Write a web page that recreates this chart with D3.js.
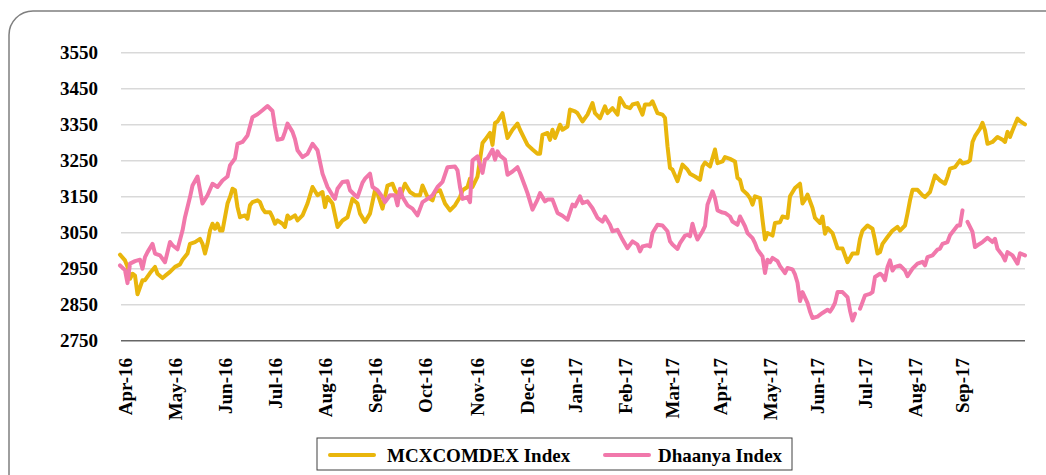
<!DOCTYPE html>
<html>
<head>
<meta charset="utf-8">
<script src="https://cdnjs.cloudflare.com/ajax/libs/d3/7.8.5/d3.min.js"></script>
<style>
  body { margin: 0; background: #fff; }
  text { font-family: "Liberation Serif", "Times New Roman", serif; font-weight: bold; fill: #000; }
</style>
</head>
<body>
<div id="chart"></div>
<script>
// trading-session index of the first session of each month
var monthTicks = [2, 22, 42, 62, 82, 102, 122, 143, 163, 182, 202, 221, 240, 260, 279, 298, 318, 337];
var monthLabels = ["Apr-16", "May-16", "Jun-16", "Jul-16", "Aug-16", "Sep-16", "Oct-16", "Nov-16", "Dec-16",
    "Jan-17", "Feb-17", "Mar-17", "Apr-17", "May-17", "Jun-17", "Jul-17", "Aug-17", "Sep-17"];
var yTicks = [2750, 2850, 2950, 3050, 3150, 3250, 3350, 3450, 3550];
var seriesNames = ["MCXCOMDEX Index", "Dhaanya Index"];

// [session, index value]
var mcxcomdex = [
    [0, 2989], [2, 2973], [3, 2955], [4, 2922], [5, 2936], [6, 2931], [7, 2879], [9, 2918], [10, 2918],
    [12, 2938], [14, 2955], [15, 2936], [17, 2924], [18, 2930], [20, 2941], [22, 2955], [24, 2962],
    [25, 2975], [27, 2992], [28, 3019], [30, 3024], [32, 3033], [33, 3019], [34, 2992], [35, 3019],
    [36, 3056], [37, 3075], [38, 3061], [39, 3075], [40, 3056], [41, 3056], [43, 3131], [44, 3149],
    [45, 3172], [46, 3168], [47, 3121], [48, 3093], [50, 3098], [51, 3089], [52, 3126], [53, 3135],
    [55, 3140], [56, 3135], [57, 3117], [58, 3107], [60, 3107], [61, 3093], [62, 3075], [63, 3084],
    [65, 3075], [66, 3066], [67, 3098], [68, 3089], [70, 3098], [71, 3084], [73, 3098], [75, 3131],
    [77, 3177], [79, 3154], [81, 3163], [82, 3121], [83, 3149], [85, 3131], [87, 3066], [89, 3084],
    [91, 3093], [93, 3144], [95, 3131], [96, 3103], [98, 3080], [100, 3103], [102, 3168], [103, 3159],
    [105, 3117], [107, 3181], [109, 3186], [110, 3168], [112, 3149], [114, 3186], [116, 3163], [118, 3154],
    [120, 3154], [121, 3181], [123, 3149], [125, 3140], [126, 3163], [128, 3168], [130, 3131], [132, 3112],
    [134, 3126], [136, 3149], [137, 3168], [139, 3177], [140, 3200], [141, 3177], [143, 3206], [145, 3299],
    [146, 3308], [148, 3327], [149, 3294], [150, 3355], [151, 3359], [153, 3382], [155, 3313], [157, 3336],
    [159, 3353], [160, 3336], [162, 3308], [163, 3294], [165, 3281], [167, 3269], [168, 3269], [169, 3322],
    [171, 3327], [172, 3308], [173, 3336], [174, 3313], [176, 3350], [177, 3336], [179, 3345], [180, 3392],
    [182, 3387], [183, 3382], [185, 3359], [187, 3378], [189, 3410], [190, 3382], [192, 3368], [194, 3401],
    [195, 3382], [197, 3396], [199, 3378], [200, 3424], [202, 3401], [204, 3396], [205, 3406], [207, 3410],
    [209, 3378], [210, 3406], [212, 3406], [213, 3415], [215, 3382], [217, 3378], [218, 3369], [219, 3290],
    [220, 3230], [221, 3225], [223, 3193], [225, 3239], [227, 3225], [228, 3214], [230, 3206], [232, 3197],
    [233, 3234], [234, 3245], [236, 3234], [238, 3281], [239, 3243], [241, 3248], [242, 3260], [244, 3255],
    [246, 3248], [247, 3202], [248, 3197], [249, 3169], [251, 3156], [252, 3146], [253, 3128], [254, 3151],
    [256, 3146], [257, 3086], [258, 3031], [259, 3049], [261, 3042], [262, 3077], [264, 3079], [265, 3095],
    [267, 3091], [268, 3151], [270, 3174], [272, 3186], [273, 3131], [274, 3142], [275, 3156], [277, 3119],
    [278, 3091], [280, 3077], [281, 3095], [282, 3047], [283, 3063], [285, 3049], [287, 3007], [289, 3006],
    [291, 2968], [293, 2992], [295, 2992], [296, 3033], [297, 3056], [299, 3070], [301, 3061], [302, 3029],
    [303, 2992], [304, 2996], [305, 3019], [307, 3038], [309, 3056], [311, 3066], [312, 3056], [314, 3070],
    [315, 3103], [316, 3140], [317, 3169], [319, 3169], [321, 3154], [322, 3149], [324, 3163], [326, 3209],
    [328, 3195], [330, 3186], [331, 3205], [332, 3228], [334, 3232], [336, 3251], [337, 3242], [339, 3246],
    [340, 3251], [341, 3302], [342, 3318], [344, 3339], [345, 3355], [346, 3334], [347, 3297], [349, 3302],
    [351, 3316], [353, 3308], [354, 3302], [355, 3330], [356, 3316], [357, 3334], [359, 3367], [360, 3360],
    [362, 3351]
];

// [session, index value]; null = missing
var dhaanya = [
    [0, 2959], [2, 2946], [3, 2910], [4, 2964], [6, 2971], [8, 2975], [9, 2950], [10, 2982], [11, 2996],
    [13, 3019], [14, 2992], [16, 2987], [18, 2968], [20, 3024], [21, 3015], [23, 3004], [25, 3056],
    [26, 3093], [28, 3149], [29, 3181], [31, 3206], [32, 3168], [33, 3131], [35, 3154], [37, 3186],
    [39, 3177], [41, 3195], [43, 3206], [44, 3237], [46, 3256], [47, 3297], [49, 3302], [51, 3320],
    [53, 3371], [55, 3379], [57, 3390], [59, 3402], [61, 3388], [62, 3344], [63, 3308], [65, 3311],
    [66, 3330], [67, 3353], [69, 3330], [70, 3310], [71, 3279], [73, 3260], [75, 3269], [77, 3297],
    [79, 3279], [81, 3214], [83, 3177], [85, 3154], [86, 3144], [87, 3172], [89, 3191], [91, 3193],
    [92, 3168], [94, 3154], [95, 3149], [97, 3189], [98, 3200], [100, 3214], [101, 3177], [103, 3168],
    [105, 3149], [106, 3135], [108, 3154], [110, 3154], [111, 3126], [112, 3172], [113, 3149], [115, 3126],
    [117, 3117], [119, 3098], [121, 3135], [123, 3144], [125, 3154], [127, 3177], [129, 3191], [131, 3232],
    [134, 3234], [135, 3223], [136, 3177], [137, 3144], [139, 3149], [140, 3135], [141, 3251], [143, 3262],
    [145, 3216], [146, 3253], [147, 3257], [149, 3281], [150, 3253], [151, 3276], [152, 3264], [154, 3253],
    [155, 3211], [157, 3220], [159, 3232], [160, 3216], [162, 3179], [163, 3160], [165, 3114], [167, 3142],
    [168, 3160], [170, 3137], [171, 3142], [173, 3142], [175, 3105], [177, 3097], [179, 3086], [181, 3128],
    [182, 3123], [184, 3151], [185, 3132], [187, 3137], [189, 3118], [191, 3091], [193, 3081], [194, 3095],
    [196, 3072], [197, 3054], [199, 3058], [201, 3031], [203, 3007], [205, 3026], [207, 3017], [208, 2998],
    [209, 3012], [211, 3015], [212, 3012], [213, 3049], [215, 3072], [217, 3070], [219, 3054], [220, 3026],
    [221, 3017], [223, 3005], [224, 3021], [226, 3042], [227, 3044], [228, 3040], [229, 3075], [230, 3049],
    [231, 3031], [233, 3054], [234, 3068], [235, 3128], [237, 3165], [238, 3146], [239, 3112], [241, 3106],
    [242, 3105], [244, 3095], [245, 3081], [247, 3072], [248, 3095], [250, 3068], [251, 3049], [253, 3035],
    [254, 3021], [255, 3003], [257, 2984], [258, 2938], [259, 2975], [260, 2968], [261, 2980], [263, 2971],
    [264, 2957], [266, 2938], [267, 2952], [269, 2948], [270, 2934], [271, 2911], [272, 2860], [273, 2885],
    [275, 2855], [276, 2831], [277, 2813], [279, 2817], [281, 2827], [283, 2836], [284, 2831], [285, 2841],
    [286, 2855], [287, 2885], [289, 2885], [291, 2871], [292, 2834], [293, 2806], [294, 2825], [295, null],
    [296, 2839], [297, 2857], [298, 2876], [300, 2880], [301, 2885], [302, 2927], [304, 2936], [305, 2931],
    [306, 2918], [307, 2955], [308, 2973], [309, 2945], [310, 2955], [312, 2959], [314, 2945], [315, 2929],
    [317, 2950], [319, 2964], [321, 2969], [322, 2959], [323, 2982], [325, 2987], [327, 3003], [328, 3006],
    [329, 3019], [331, 3024], [332, 3043], [333, 3052], [335, 3070], [336, 3070], [337, 3112], [338, null],
    [339, 3080], [341, 3052], [342, 3010], [343, 3015], [345, 3024], [347, 3036], [349, 3024], [350, 3033],
    [351, 3005], [353, 2987], [354, 2973], [355, 2996], [357, 2987], [359, 2964], [360, 2993], [362, 2987]
];

var colors = ["#E9B60C", "#F178AB"];

var svgWidth = 1046;
var svgHeight = 475;

var svg = d3.select("#chart")
    .append("svg")
    .attr("width", svgWidth)
    .attr("height", svgHeight);

// rounded frame round the whole chart
svg.append("rect")
    .attr("x", 9)
    .attr("y", 11)
    .attr("width", 1080)
    .attr("height", 520)
    .attr("rx", 24)
    .attr("fill", "none")
    .attr("stroke", "#7f7f7f")
    .attr("stroke-width", 1.5);

var xScale = d3.scaleLinear().domain([0, 362]).range([120, 1025]);
var yScale = d3.scaleLinear().domain([2750, 3550]).range([340.7, 52.7]);

// gridlines
svg.append("g")
    .selectAll("line")
    .data(yTicks.slice(1))
    .enter()
    .append("line")
    .attr("x1", 121)
    .attr("x2", 1025)
    .attr("y1", d => yScale(d))
    .attr("y2", d => yScale(d))
    .attr("stroke", "#d9d9d9")
    .attr("stroke-width", 1.5);

// x axis line
svg.append("line")
    .attr("x1", 121)
    .attr("x2", 1025)
    .attr("y1", yScale(2750))
    .attr("y2", yScale(2750))
    .attr("stroke", "#666")
    .attr("stroke-width", 1.5);

// y labels
svg.append("g")
    .selectAll("text")
    .data(yTicks)
    .enter()
    .append("text")
    .attr("x", 98)
    .attr("y", d => yScale(d))
    .attr("dy", "0.35em")
    .attr("text-anchor", "end")
    .attr("font-size", "19px")
    .text(d => d);

// month labels, rotated
svg.append("g")
    .selectAll("text")
    .data(monthTicks)
    .enter()
    .append("text")
    .attr("transform", d => `translate(${xScale(d)}, 358) rotate(-90)`)
    .attr("dy", "0.35em")
    .attr("text-anchor", "end")
    .attr("font-size", "19px")
    .text((d, i) => monthLabels[i]);

var line = d3.line()
    .defined(d => d[1] != null)
    .x(d => xScale(d[0]))
    .y(d => yScale(d[1]));

[mcxcomdex, dhaanya].forEach(function(series, i) {
    svg.append("path")
        .datum(series)
        .attr("d", line)
        .attr("fill", "none")
        .attr("stroke", colors[i])
        .attr("stroke-width", 4)
        .attr("stroke-linejoin", "round")
        .attr("stroke-linecap", "round");
});

// legend
var legend = svg.append("g");
legend.append("rect")
    .attr("x", 317)
    .attr("y", 438)
    .attr("width", 475)
    .attr("height", 32)
    .attr("fill", "#fff")
    .attr("stroke", "#404040")
    .attr("stroke-width", 1);

var legendLineX = [330, 605];
var legendTextX = [387, 658];
seriesNames.forEach(function(name, i) {
    legend.append("line")
        .attr("x1", legendLineX[i])
        .attr("x2", legendLineX[i] + 44)
        .attr("y1", 455)
        .attr("y2", 455)
        .attr("stroke", colors[i])
        .attr("stroke-width", 4)
        .attr("stroke-linecap", "round");
    legend.append("text")
        .attr("x", legendTextX[i])
        .attr("y", 455)
        .attr("dy", "0.35em")
        .attr("font-size", "19px")
        .text(name);
});
</script>
</body>
</html>
